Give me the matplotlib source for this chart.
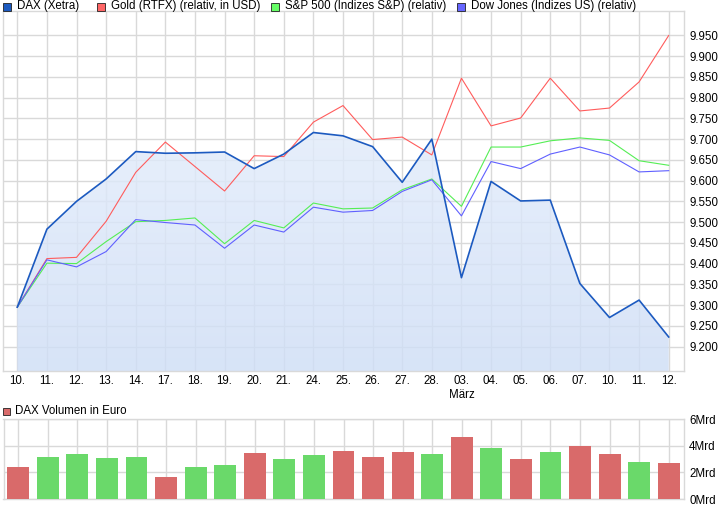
import numpy as np
import matplotlib
matplotlib.use("Agg")
from matplotlib import pyplot as plt
from matplotlib.patches import Rectangle

plt.rcParams['font.family'] = ['Liberation Sans', 'DejaVu Sans']

# trading days (Feb/Mar)
days = ["10.", "11.", "12.", "13.", "14.", "17.", "18.", "19.", "20.", "21.", "24.", "25.",
        "26.", "27.", "28.", "03.", "04.", "05.", "06.", "07.", "10.", "11.", "12."]

# all series scaled to the DAX axis
dax = [9.295, 9.483, 9.550, 9.604, 9.670, 9.666, 9.667, 9.669, 9.629, 9.664, 9.716, 9.708,
       9.682, 9.596, 9.700, 9.366, 9.598, 9.551, 9.553, 9.352, 9.270, 9.312, 9.223]
gold = [9.295, 9.412, 9.415, 9.502, 9.620, 9.693, 9.634, 9.575, 9.660, 9.658, 9.741, 9.781,
        9.699, 9.705, 9.662, 9.847, 9.732, 9.751, 9.847, 9.768, 9.775, 9.838, 9.950]
sp500 = [9.295, 9.401, 9.400, 9.453, 9.501, 9.504, 9.510, 9.448, 9.504, 9.486, 9.546, 9.532,
         9.534, 9.578, 9.604, 9.538, 9.681, 9.681, 9.696, 9.703, 9.697, 9.648, 9.637]
dow = [9.295, 9.409, 9.392, 9.429, 9.506, 9.499, 9.493, 9.437, 9.493, 9.476, 9.536, 9.524,
       9.528, 9.574, 9.602, 9.515, 9.646, 9.629, 9.664, 9.681, 9.662, 9.621, 9.624]

# DAX volume in Mrd Euro, and whether the day closed up
volume = [2.41, 3.16, 3.39, 3.09, 3.16, 1.66, 2.41, 2.56, 3.46, 3.01, 3.31, 3.62,
          3.16, 3.54, 3.39, 4.67, 3.84, 3.01, 3.54, 3.99, 3.39, 2.79, 2.71]
vol_up = [False, True, True, True, True, False, True, True, False, True, True, False,
          False, False, True, False, True, False, True, False, False, True, False]

y_ticks = np.arange(9.20, 9.951, 0.05)
vol_ticks = [0, 2, 4, 6]

legend_items = [("DAX (Xetra)", "#1c5ac0"),
                ("Gold (RTFX) (relativ, in USD)", "#ff6666"),
                ("S&P 500 (Indizes S&P) (relativ)", "#66ff66"),
                ("Dow Jones (Indizes US) (relativ)", "#6666ff")]

W, H = 726, 508
fig = plt.figure(figsize=(W / 100, H / 100), dpi=100)
grid_c = "#d9d9d9"
fs = 8.3


def px_axes(left, top, right, bottom):
    return fig.add_axes([left / W, 1 - bottom / H, (right - left) / W, (bottom - top) / H])


x = np.arange(len(days))

# ---- main price chart
ax = px_axes(2.5, 11, 683.5, 371)
ax.set_xticks(x)
labels = list(days)
labels[15] = "03.\nMärz"
ax.set_xticklabels(labels, fontsize=fs)
ax.set_yticks(y_ticks)
ax.set_yticklabels([f"{v:.3f}" for v in y_ticks], fontsize=fs)
ax.yaxis.tick_right()
ax.tick_params(length=0, pad=3)
ax.tick_params(axis='y', pad=4)
ax.grid(True, color=grid_c, lw=1.0)
ax.set_axisbelow(True)
for s in ax.spines.values():
    s.set_color(grid_c)
    s.set_linewidth(1.0)

ymin = 9.141
poly = ax.fill_between(x, dax, ymin, color="none", lw=0, zorder=2)
grad = np.linspace(0, 1, 256).reshape(-1, 1)
cmap = matplotlib.colors.LinearSegmentedColormap.from_list("f", ["#cfdef6", "#e2ecfb"])
im = ax.imshow(grad, extent=[0, len(days) - 1, ymin, 9.72], origin="lower", aspect="auto",
               cmap=cmap, alpha=0.82, zorder=2)
im.set_clip_path(poly.get_paths()[0], transform=ax.transData)
ax.set_ylim(ymin, 10.009)
ax.set_xlim(-0.5, len(days) - 0.5)

ax.plot(x, gold, color="#ff5c5c", lw=0.8, zorder=3)
ax.plot(x, sp500, color="#55ee55", lw=0.8, zorder=3)
ax.plot(x, dow, color="#6060ff", lw=0.8, zorder=3)
ax.plot(x, dax, color="#1c5ac0", lw=1.2, zorder=4)

# legend row on top
leg_x = [3, 97, 271, 457]
for (name, col), lx in zip(legend_items, leg_x):
    fig.patches.append(Rectangle((lx / W, 1 - 10.5 / H), 8 / W, 8 / H, transform=fig.transFigure,
                                 facecolor=col, edgecolor="#222222", lw=0.6))
    fig.text((lx + 14) / W, 1 - 6.5 / H, name, fontsize=fs, va="center", ha="left")

# ---- volume chart
vx = px_axes(3.5, 419, 683.5, 499)
cols = ["#6ad96a" if u else "#d96a6a" for u in vol_up]
vx.bar(x, volume, width=0.74, color=cols, zorder=3)
vx.set_xlim(-0.5, len(days) - 0.5)
vx.set_ylim(0, 6)
vx.set_xticks(x)
vx.set_xticklabels([])
vx.set_yticks(vol_ticks)
vx.set_yticklabels([f"{v}Mrd" for v in vol_ticks], fontsize=fs)
vx.yaxis.tick_right()
vx.tick_params(length=0, pad=4)
vx.grid(True, color=grid_c, lw=1.0)
vx.set_axisbelow(True)
for s in vx.spines.values():
    s.set_color(grid_c)
    s.set_linewidth(1.0)

fig.patches.append(Rectangle((3 / W, 1 - 415 / H), 7 / W, 7 / H, transform=fig.transFigure,
                             facecolor="#d96a6a", edgecolor="#222222", lw=0.6))
fig.text(15 / W, 1 - 411 / H, "DAX Volumen in Euro", fontsize=fs, va="center", ha="left")

fig.savefig("out.png", dpi=100)
